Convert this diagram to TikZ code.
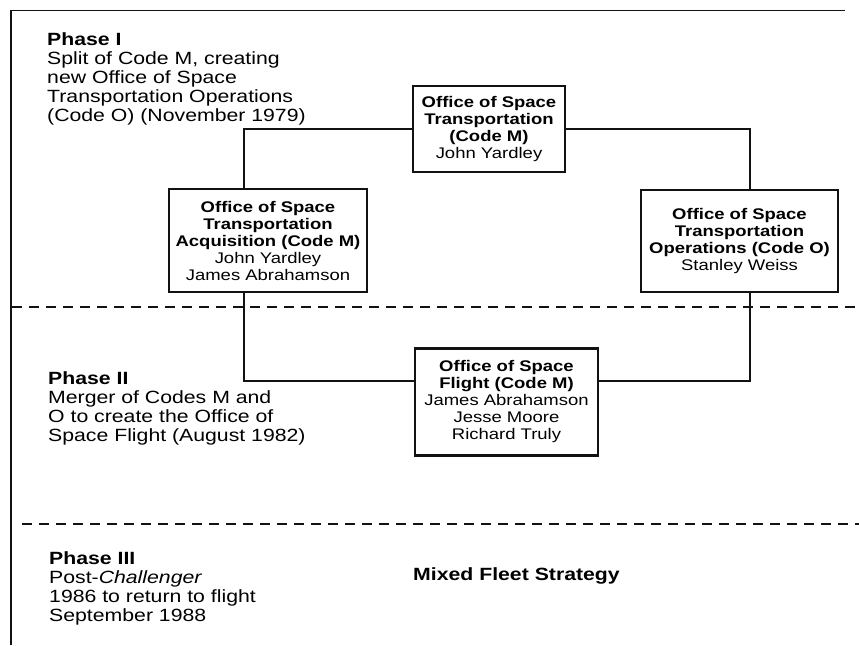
\documentclass[tikz,border=0pt]{standalone}
\usepackage{fontspec}
\setmainfont{Liberation Sans}[FakeStretch=1.2]
\usetikzlibrary{calc,positioning}
\definecolor{orgink}{RGB}{18,18,18}
\tikzset{
  orgbox/.style={draw=orgink, line width=2.1pt, align=center, inner sep=2pt, font=\fontsize{15.4}{17}\selectfont},
  orgline/.style={draw=orgink, line width=1.8pt},
  orgphase/.style={align=left, inner sep=0pt, anchor=north west, font=\fontsize{17.7}{19}\selectfont},
  orgdash/.style={draw=orgink, line width=1.6pt, dash pattern=on 10pt off 7pt}
}

\begin{document}
\begin{tikzpicture}[x=1pt, y=-1pt]
  \useasboundingbox (0,0) rectangle (859,647);
  % frame and phase separators
  \draw[orgline] (845,10.5) -- (10.7,10.5) -- (10.7,645);
  \draw[orgdash] (12,307) -- (859,307);
  \draw[orgdash] (22,524) -- (859,524);
  % phase descriptions
  \node[orgphase] (phone) at (47,32) {\textbf{Phase I}\\Split of Code M, creating\\new Office of Space\\Transportation Operations\\(Code O) (November 1979)};
  \node[orgphase] (phtwo) at (48,371) {\textbf{Phase II}\\Merger of Codes M and\\O to create the Office of\\Space Flight (August 1982)};
  \node[orgphase] (phthree) at (49,551) {\textbf{Phase III}\\Post-\textit{Challenger}\\1986 to return to flight\\September 1988};
  \node[orgphase, anchor=base west] (fleet) at (413,580) {\textbf{Mixed Fleet Strategy}};
  % offices
  \node[orgbox, minimum width=152pt, minimum height=86pt] (trans) at (489,129) {\textbf{Office of Space}\\\textbf{Transportation}\\\textbf{(Code M)}\\John Yardley};
  \node[orgbox, minimum width=198pt, minimum height=103pt] (acq) at (268,240.5) {\textbf{Office of Space}\\\textbf{Transportation}\\\textbf{Acquisition (Code M)}\\John Yardley\\James Abrahamson};
  \node[orgbox, minimum width=197pt, minimum height=102pt] (ops) at (739.5,241) {\textbf{Office of Space}\\\textbf{Transportation}\\\textbf{Operations (Code O)}\\Stanley Weiss};
  \node[orgbox, minimum width=183pt, minimum height=107pt] (flight) at (506.5,402) {\textbf{Office of Space}\\\textbf{Flight (Code M)}\\James Abrahamson\\Jesse Moore\\Richard Truly};
  % split and merger
  \draw[orgline] (trans.west) -| ($(acq.north)+(-24,0)$);
  \draw[orgline] (trans.east) -| ($(ops.north)+(10.5,0)$);
  \draw[orgline] ($(acq.south)+(-24,0)$) |- ($(flight.west)+(0,-21)$);
  \draw[orgline] ($(ops.south)+(10.5,0)$) |- ($(flight.east)+(0,-21)$);
\end{tikzpicture}
\end{document}
